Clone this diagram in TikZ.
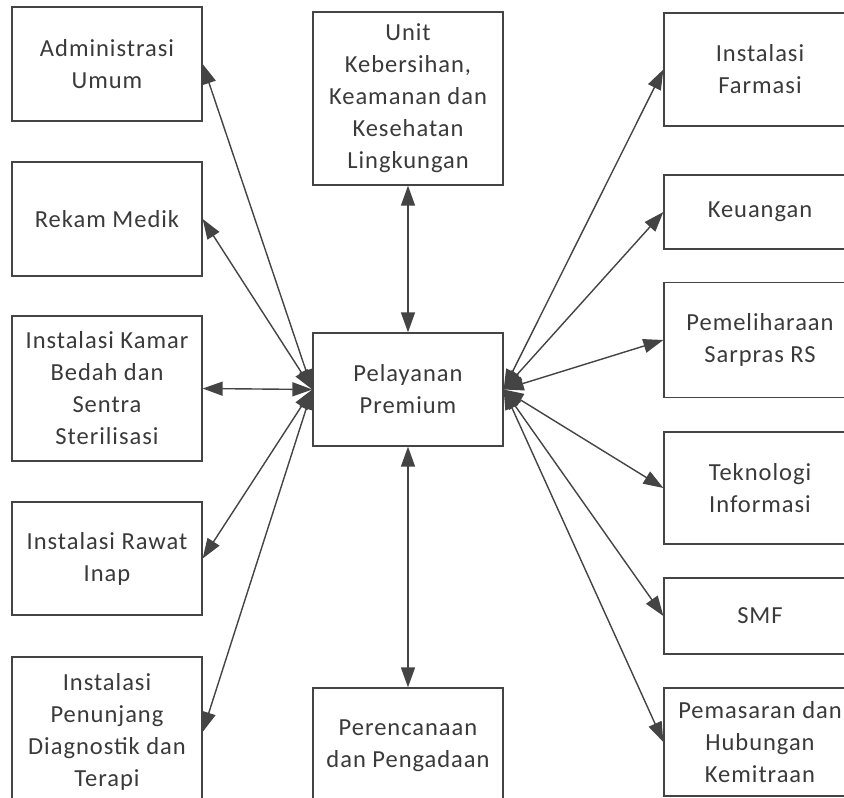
\documentclass[tikz,border=0pt]{standalone}
\usepackage{fontspec}
\setmainfont[LetterSpace=4]{Carlito}
\usetikzlibrary{arrows.meta}
\definecolor{ink}{HTML}{3A3A3A}
\definecolor{wire}{HTML}{444444}
\begin{document}
\begin{tikzpicture}[x=1pt,y=-1pt,
  unitbox/.style={draw=wire, line width=1.3pt, fill=white, text=ink,
    align=center, inner sep=0pt, minimum width=#1,
    font=\fontsize{24.5}{32}\selectfont},
  unitbox/.default=190pt,
  link/.style={draw=wire, line width=1.4pt,
    {Triangle[length=20pt,width=14pt]}-{Triangle[length=20pt,width=14pt]}}]
\useasboundingbox (0,0) rectangle (844,798);
\clip (0,0) rectangle (844,798);
\fill[white] (0,0) rectangle (844,798);

% left column
\node[unitbox, minimum height=114pt] (adm) at (107,64) {Administrasi\\Umum};
\node[unitbox, minimum height=114pt] (rek) at (107,219) {Rekam Medik};
\node[unitbox, minimum height=145pt] (ikb) at (107,388.5) {Instalasi Kamar\\Bedah dan\\Sentra\\Sterilisasi};
\node[unitbox, minimum height=113pt] (iri) at (107,558.5) {Instalasi Rawat\\Inap};
\node[unitbox, minimum height=150pt] (ipd) at (107,732) {Instalasi\\Penunjang\\Diagnostik dan\\Terapi};

% centre column
\node[unitbox, minimum height=173pt] (k3l) at (408,98.5) {Unit\\Kebersihan,\\Keamanan dan\\Kesehatan\\Lingkungan};
\node[unitbox, minimum height=113pt] (pp) at (408,389.5) {Pelayanan\\Premium};
\node[unitbox, minimum height=116pt] (pdp) at (408,746) {Perencanaan\\dan Pengadaan};

% right column
\node[unitbox=192pt, minimum height=113pt] (ifa) at (760,69.5) {Instalasi\\Farmasi};
\node[unitbox=192pt, minimum height=74pt] (keu) at (760,212) {Keuangan};
\node[unitbox=192pt, minimum height=115pt] (pms) at (760,340) {Pemeliharaan\\Sarpras RS};
\node[unitbox=192pt, minimum height=112pt] (tif) at (760,488) {Teknologi\\Informasi};
\node[unitbox=192pt, minimum height=76pt] (smf) at (760,616) {SMF};
\node[unitbox=192pt, minimum height=108pt] (phk) at (760,742) {Pemasaran dan\\Hubungan\\Kemitraan};

% connectors
\draw[link] (pp.west) -- (adm.east);
\draw[link] (pp.west) -- (rek.east);
\draw[link] (pp.west) -- (ikb.east);
\draw[link] (pp.west) -- (iri.east);
\draw[link] (pp.west) -- (ipd.east);
\draw[link] (pp.north) -- (k3l.south);
\draw[link] (pp.south) -- (pdp.north);
\draw[link] (pp.east) -- (ifa.west);
\draw[link] (pp.east) -- (keu.west);
\draw[link] (pp.east) -- (pms.west);
\draw[link] (pp.east) -- (tif.west);
\draw[link] (pp.east) -- (smf.west);
\draw[link] (pp.east) -- (phk.west);
\end{tikzpicture}
\end{document}
